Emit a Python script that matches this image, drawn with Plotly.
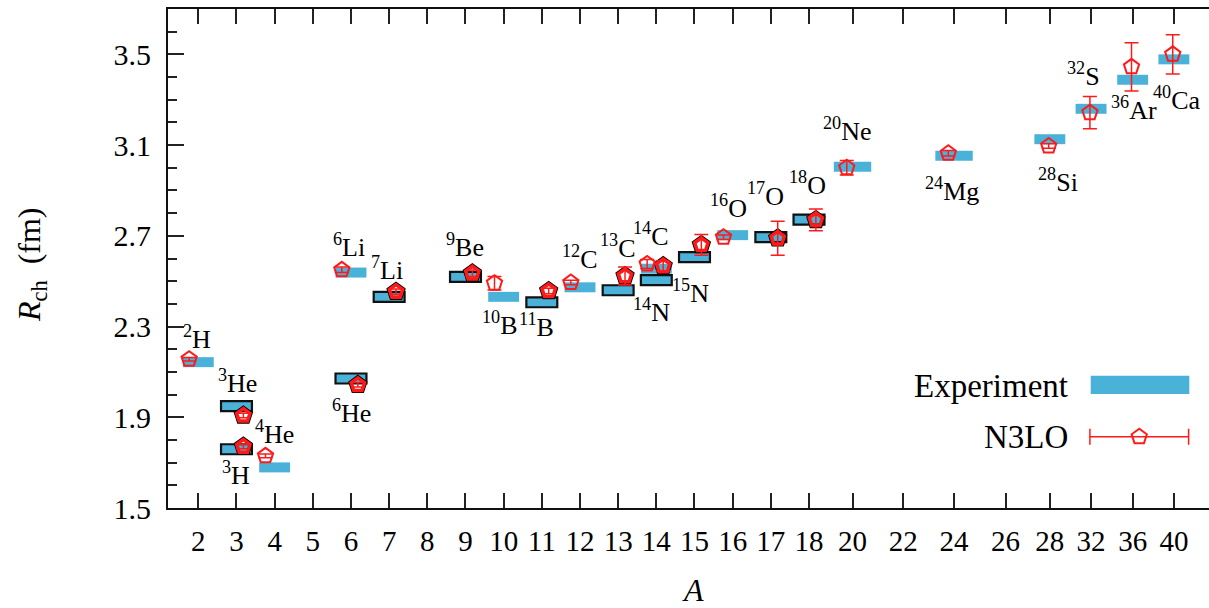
import re
import plotly.graph_objects as go

# ---------------- data ----------------
nuclei = ["2H", "3H", "3He", "4He", "6He", "6Li", "7Li", "9Be", "10B", "11B", "12C", "13C",
          "14C", "14N", "15N", "16O", "17O", "18O", "20Ne", "24Mg", "28Si", "32S", "36Ar", "40Ca"]
mass_number = [2, 3, 3, 4, 6, 6, 7, 9, 10, 11, 12, 13, 14, 14, 15, 16, 17, 18, 20, 24, 28, 32, 36, 40]
r_exp = [2.143, 1.759, 1.949, 1.679, 2.071, 2.538, 2.431, 2.519, 2.431, 2.407, 2.473, 2.460,
         2.505, 2.555, 2.606, 2.703, 2.694, 2.771, 3.005, 3.053, 3.126, 3.260, 3.388, 3.478]
r_n3lo = [2.156, 1.771, 1.908, 1.730, 2.043, 2.550, 2.454, 2.535, 2.491, 2.457, 2.494, 2.523,
          2.567, 2.576, 2.660, 2.694, 2.689, 2.770, 3.000, 3.064, 3.096, 3.243, 3.445, 3.500]
r_n3lo_err = [0.008, 0.010, 0.010, 0.008, 0.010, 0.012, 0.012, 0.014, 0.030, 0.012, 0.010, 0.040,
              0.022, 0.020, 0.046, 0.010, 0.075, 0.048, 0.032, 0.012, 0.010, 0.071, 0.106, 0.087]
outlined = ["3H", "3He", "6He", "7Li", "9Be", "11B", "13C", "14C", "15N", "17O", "18O"]
tick_labels = ["2", "3", "4", "5", "6", "7", "8", "9", "10", "11", "12", "13", "14", "15", "16",
               "17", "18", "20", "22", "24", "26", "28", "32", "36", "40"]

# ---------------- layout helpers (positions / styles) ----------------
tick_pos = [0, 1, 2, 3, 4, 5, 6, 7, 8, 9, 10, 11, 12, 13, 14, 15, 16,
            17.14, 18.47, 19.80, 21.15, 22.31, 23.39, 24.48, 25.56]
pos_of = {int(t): p for t, p in zip(tick_labels, tick_pos)}

# label offsets in px (dx, dy up) relative to the experiment bar
label_shift = {
    "2H": (-1, 25), "3H": (0, -24), "3He": (1, 25), "4He": (0, 35), "6He": (1, -33),
    "6Li": (-2, 27), "7Li": (-2, 28), "9Be": (0, 31), "10B": (-4, -27), "11B": (-5, -23),
    "12C": (0, 30), "13C": (0, 44), "14C": (-5, 46), "14N": (-5, -42), "15N": (-4, -34),
    "16O": (-4, 29), "17O": (-5, 43), "18O": (-2, 36), "20Ne": (-5, 37), "24Mg": (-2, -34),
    "28Si": (8, -41), "32S": (-8, 34), "36Ar": (1, -29), "40Ca": (3, -39),
}

BLUE = "#4AB2D9"
RED = "#FF1A1A"
FONT = "Liberation Serif, Times New Roman, serif"
BAR_H = 0.044


def bar_width(a):
    return 0.98 if a in (20, 24) else 0.81


def marker_shift(name, a):
    if name in outlined:
        return 0.18
    if a <= 18:
        return -0.24
    if a <= 24:
        return -0.15
    return -0.03


def label_html(name):
    m = re.match(r"(\d+)([A-Za-z]+)", name)
    return f"<sup>{m.group(1)}</sup>{m.group(2)}"


fig = go.Figure()

# experiment bars
for is_out in (False, True):
    idx = [i for i, n in enumerate(nuclei) if (n in outlined) == is_out]
    fig.add_trace(go.Bar(
        x=[pos_of[mass_number[i]] for i in idx],
        y=[BAR_H] * len(idx),
        base=[r_exp[i] - BAR_H / 2 for i in idx],
        width=[bar_width(mass_number[i]) for i in idx],
        marker=dict(color=BLUE, line=dict(color="#111111" if is_out else BLUE,
                                          width=2.2 if is_out else 0)),
        showlegend=False, hoverinfo="skip",
    ))

# N3LO points
idx_p = [i for i, n in enumerate(nuclei) if n not in outlined]
idx_o = [i for i, n in enumerate(nuclei) if n in outlined]


def xs(idx):
    return [pos_of[mass_number[i]] + marker_shift(nuclei[i], mass_number[i]) for i in idx]


fig.add_trace(go.Scatter(
    x=xs(idx_o), y=[r_n3lo[i] for i in idx_o], mode="markers",
    marker=dict(symbol="pentagon-open", size=18, color="#000000", line=dict(width=2, color="#000000")),
    showlegend=False, hoverinfo="skip"))
fig.add_trace(go.Scatter(
    x=xs(idx_o), y=[r_n3lo[i] for i in idx_o], mode="markers",
    marker=dict(symbol="pentagon-open", size=14, color=RED, line=dict(width=3.5, color=RED)),
    error_y=dict(type="data", array=[r_n3lo_err[i] for i in idx_o], color=RED, thickness=1.5, width=7),
    showlegend=False, hoverinfo="skip"))
fig.add_trace(go.Scatter(
    x=xs(idx_p), y=[r_n3lo[i] for i in idx_p], mode="markers",
    marker=dict(symbol="pentagon-open", size=16, color=RED, line=dict(width=2, color=RED)),
    error_y=dict(type="data", array=[r_n3lo_err[i] for i in idx_p], color=RED, thickness=1.5, width=7),
    showlegend=False, hoverinfo="skip"))

# legend sample for N3LO on hidden overlay axes
fig.add_trace(go.Scatter(
    x=[0.933], y=[0.1428], xaxis="x2", yaxis="y2", mode="markers",
    marker=dict(symbol="pentagon-open", size=16, color=RED, line=dict(width=2, color=RED)),
    error_x=dict(type="data", array=[0.0474], color=RED, thickness=1.5, width=8),
    showlegend=False, hoverinfo="skip"))

annotations = []
for i, n in enumerate(nuclei):
    dx, dy = label_shift[n]
    annotations.append(dict(
        x=pos_of[mass_number[i]], y=r_exp[i], xref="x", yref="y", text=label_html(n),
        showarrow=False, xshift=dx, yshift=dy, xanchor="center", yanchor="middle",
        font=dict(family=FONT, size=26, color="#000000")))

annotations += [
    dict(x=0.8665, y=0.245, xref="paper", yref="paper", text="Experiment", showarrow=False,
         xanchor="right", yanchor="middle", font=dict(family=FONT, size=33, color="#000000")),
    dict(x=0.8665, y=0.1428, xref="paper", yref="paper", text="N3LO", showarrow=False,
         xanchor="right", yanchor="middle", font=dict(family=FONT, size=33, color="#000000")),
    dict(x=-0.1306, y=0.487, xref="paper", yref="paper", text="<i>R</i><sub>ch</sub>  (fm)",
         showarrow=False, textangle=-90, xanchor="center", yanchor="middle",
         font=dict(family=FONT, size=32, color="#000000")),
    dict(x=0.504, y=-0.1636, xref="paper", yref="paper", text="<i>A</i>", showarrow=False,
         xanchor="center", yanchor="middle", font=dict(family=FONT, size=32, color="#000000")),
]

shapes = [dict(type="rect", xref="paper", yref="paper", x0=0.8864, x1=0.9811, y0=0.2283, y1=0.265,
               fillcolor=BLUE, line=dict(width=0))]

fig.update_layout(
    width=1209, height=608,
    margin=dict(l=168, r=0, t=9, b=100, autoexpand=False),
    paper_bgcolor="white", plot_bgcolor="white",
    barmode="overlay",
    showlegend=False,
    annotations=annotations,
    shapes=shapes,
    font=dict(family=FONT, color="#000000"),
    xaxis=dict(
        range=[-0.794, 26.48], tickmode="array", tickvals=tick_pos, ticktext=tick_labels,
        ticks="inside", ticklen=15, tickwidth=1.5, tickcolor="#222222",
        showline=True, linewidth=2, linecolor="#111111", mirror="ticks",
        showgrid=False, zeroline=False, ticklabelstandoff=6,
        tickfont=dict(family=FONT, size=29, color="#000000"),
    ),
    yaxis=dict(
        range=[1.5, 3.7], tickmode="linear", tick0=1.5, dtick=0.4,
        ticks="inside", ticklen=16, tickwidth=1.5, tickcolor="#222222",
        minor=dict(ticks="inside", ticklen=9, dtick=0.1, tick0=1.5, tickwidth=1.5, tickcolor="#222222"),
        showline=True, linewidth=2, linecolor="#111111", mirror=False,
        showgrid=False, zeroline=False, ticklabelstandoff=9, tickformat=".1f",
        tickfont=dict(family=FONT, size=30, color="#000000"),
    ),
    xaxis2=dict(overlaying="x", range=[0, 1], visible=False),
    yaxis2=dict(overlaying="y", range=[0, 1], visible=False),
)

fig.write_html("out.html", config={"displayModeBar": False},
               post_script="document.body.style.margin='0';document.body.style.overflow='hidden';")
